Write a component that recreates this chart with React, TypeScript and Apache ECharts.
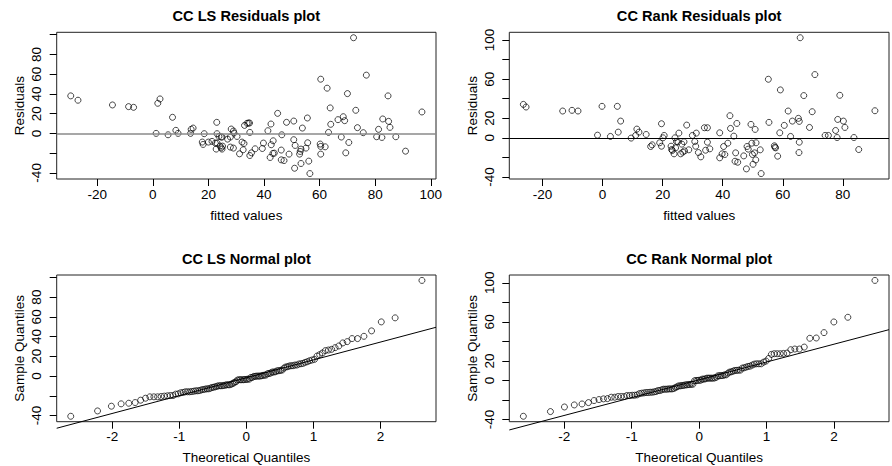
import React, { useEffect, useRef } from "react";
import * as echarts from "echarts";

// ---- Data ----
const LS_FITTED = [
  -29.5, -26.9, -14.5, -8.7, -6.9, 1.2, 1.8, 2.6, 5.5, 7.1,
  8.3, 9.1, 13.6, 13.8, 14.5, 17.8, 18.1, 18.5, 20.0, 21.3,
  22.5, 23.0, 23.1, 23.1, 22.8, 23.8, 24.2, 24.6, 24.9, 24.6,
  24.9, 25.1, 26.9, 27.9, 28.2, 27.9, 29.0, 29.0, 29.2, 30.3,
  31.2, 32.1, 32.5, 32.8, 33.0, 33.9, 34.4, 34.8, 34.9, 34.9,
  35.5, 36.8, 39.4, 39.8, 41.4, 42.5, 42.2, 42.6, 43.3, 43.2,
  43.7, 44.9, 46.4, 46.2, 46.2, 47.2, 48.1, 49.0, 50.7, 50.7,
  51.0, 51.2, 52.8, 53.0, 53.3, 53.3, 53.8, 55.1, 55.6, 55.7,
  56.1, 56.5, 60.2, 60.4, 60.4, 60.4, 62.0, 62.7, 63.2, 63.8,
  64.0, 66.6, 67.8, 68.5, 69.0, 69.4, 70.0, 70.5, 72.2, 73.0,
  73.6, 75.7, 76.8, 80.5, 81.2, 82.4, 82.7, 84.6, 84.8, 85.3,
  87.4, 90.9, 96.8,
];
const LS_RESID = [
  38.0, 33.6, 28.8, 27.1, 26.4, 0.0, 30.5, 34.9, -1.4, 16.3,
  3.1, 0.0, 0.0, 4.1, 5.4, -8.8, -11.2, -0.3, -8.8, -8.1,
  -9.8, 11.2, -0.3, -9.8, -15.9, -3.1, -12.9, -3.7, -3.7, -14.6,
  -15.9, -12.9, -5.8, -3.7, 4.4, -13.9, 2.4, -14.9, 0.3, -3.1,
  -20.7, -8.8, -16.6, -10.2, 8.1, 10.2, 10.5, 10.5, 1.0, -22.4,
  -19.7, -15.6, -15.3, -9.8, 2.7, 9.5, -24.4, -11.5, -7.5, -20.3,
  -20.0, 20.3, -1.4, -16.9, -26.8, -27.5, 11.2, -21.0, 12.5, -6.4,
  -35.3, -12.2, -21.0, -18.3, -15.9, -30.5, 5.4, -14.9, 15.6, -9.5,
  -28.1, -40.7, -10.8, 54.9, -13.2, -21.0, -13.6, 45.8, 1.0, 25.8,
  9.2, 13.9, -3.7, 16.9, 12.9, -19.7, 40.3, -9.2, 96.9, 23.4,
  5.8, 0.7, 59.0, -3.4, 4.1, -4.1, 14.6, 38.0, 12.2, 6.1,
  -3.4, -18.0, 21.7,
];
const RANK_FITTED = [
  -26.4, -25.5, -13.3, -10.2, -8.2, -1.7, -0.2, 2.6, 4.9, 5.2,
  6.0, 9.5, 11.0, 11.4, 12.1, 14.5, 16.0, 16.5, 19.0, 19.6,
  19.6, 20.1, 20.5, 22.8, 23.0, 23.2, 23.8, 24.1, 24.3, 24.6,
  25.1, 25.4, 26.0, 26.4, 26.7, 27.1, 27.3, 28.0, 28.7, 29.9,
  30.7, 31.0, 31.2, 31.9, 32.7, 34.3, 33.9, 34.9, 34.9, 35.7,
  39.0, 39.0, 39.8, 40.3, 40.7, 41.7, 42.4, 42.6, 43.7, 44.1,
  44.3, 44.7, 45.0, 47.0, 47.9, 48.1, 48.5, 49.4, 49.7, 49.9,
  50.1, 50.6, 50.8, 51.0, 51.1, 52.5, 52.8, 55.2, 55.4, 57.2,
  57.4, 57.6, 58.3, 59.0, 59.2, 60.5, 61.8, 62.6, 63.2, 65.2,
  65.5, 65.5, 65.4, 65.8, 67.0, 68.9, 69.8, 70.7, 74.1, 75.2,
  77.6, 78.1, 78.3, 79.0, 80.2, 80.7, 83.7, 85.3, 90.7,
];
const RANK_RESID = [
  34.2, 31.5, 27.4, 28.1, 27.4, 2.7, 32.2, 1.4, 32.2, 5.8,
  17.1, -0.3, 2.4, 8.9, 5.8, 3.4, -8.9, -7.2, -5.1, 14.4,
  -8.6, 0.0, 2.4, -8.6, -12.0, -13.0, -16.4, 0.0, -10.3, -3.8,
  -4.1, 4.8, -16.4, -6.5, -14.7, -4.1, -13.4, 13.0, -12.3, 2.4,
  -3.8, -8.6, 4.8, -15.1, -19.5, -12.7, 10.3, 10.3, -4.5, -11.3,
  5.1, -20.5, -16.4, -8.9, -17.1, -5.5, 22.6, 9.6, 1.7, -24.0,
  -15.4, 14.7, -25.0, -18.5, -31.8, -8.9, -11.6, 13.7, -5.5, -17.1,
  -27.1, -15.4, 8.6, -22.6, -5.1, -12.3, -36.6, 59.9, 15.8, -8.2,
  -9.6, -10.3, -18.8, 5.1, 49.0, 12.7, 27.4, 1.4, 17.1, 19.9,
  16.8, -4.5, -15.1, 102.4, 43.2, 10.6, 26.7, 64.7, 2.4, 2.4,
  7.5, 0.3, 18.8, 43.5, 17.1, 10.6, 0.3, -12.0, 27.7,
];

// ---- Tick / label values ----
const LS_X_TICKS = [-20, 0, 20, 40, 60, 80, 100];
const RANK_X_TICKS = [-20, 0, 20, 40, 60, 80];
const Y_TICKS = [-40, -20, 0, 20, 40, 60, 80, 100];
const LS_Y_LABELS = [-40, 0, 20, 40, 60, 80];
const RANK_Y_LABELS = [-40, 0, 20, 60, 100];
const QQ_X_TICKS = [-2, -1, 0, 1, 2];

const TITLES = ["CC LS Residuals plot", "CC Rank Residuals plot", "CC LS Normal plot", "CC Rank Normal plot"];

const FONT = "'Liberation Sans', Arial, Helvetica, sans-serif";

// ---- helpers (R-like) ----
function qnorm(p: number): number {
  const a = [-3.969683028665376e1, 2.209460984245205e2, -2.759285104469687e2, 1.38357751867269e2, -3.066479806614716e1, 2.506628277459239];
  const b = [-5.447609879822406e1, 1.615858368580409e2, -1.556989798598866e2, 6.680131188771972e1, -1.328068155288572e1];
  const c = [-7.784894002430293e-3, -3.223964580411365e-1, -2.400758277161838, -2.549732539343734, 4.374664141464968, 2.938163982698783];
  const d = [7.784695709041462e-3, 3.224671290700398e-1, 2.445134137142996, 3.754408661907416];
  const pl = 0.02425;
  if (p < pl) {
    const q = Math.sqrt(-2 * Math.log(p));
    return (((((c[0] * q + c[1]) * q + c[2]) * q + c[3]) * q + c[4]) * q + c[5]) / ((((d[0] * q + d[1]) * q + d[2]) * q + d[3]) * q + 1);
  }
  if (p > 1 - pl) {
    const q = Math.sqrt(-2 * Math.log(1 - p));
    return -(((((c[0] * q + c[1]) * q + c[2]) * q + c[3]) * q + c[4]) * q + c[5]) / ((((d[0] * q + d[1]) * q + d[2]) * q + d[3]) * q + 1);
  }
  const q = p - 0.5;
  const r = q * q;
  return ((((((a[0] * r + a[1]) * r + a[2]) * r + a[3]) * r + a[4]) * r + a[5]) * q) / (((((b[0] * r + b[1]) * r + b[2]) * r + b[3]) * r + b[4]) * r + 1);
}

function qqData(vals: number[]) {
  const sorted = [...vals].sort((x, y) => x - y);
  const n = sorted.length;
  const a = n <= 10 ? 3 / 8 : 0.5;
  return sorted.map((v, i) => [qnorm((i + 1 - a) / (n + 1 - 2 * a)), v]);
}

function quantile7(sorted: number[], p: number) {
  const h = (sorted.length - 1) * p;
  const lo = Math.floor(h);
  const hi = Math.min(lo + 1, sorted.length - 1);
  return sorted[lo] + (h - lo) * (sorted[hi] - sorted[lo]);
}

function qqLine(vals: number[]) {
  const sorted = [...vals].sort((x, y) => x - y);
  const y1 = quantile7(sorted, 0.25);
  const y2 = quantile7(sorted, 0.75);
  const x1 = qnorm(0.25);
  const x2 = qnorm(0.75);
  const slope = (y2 - y1) / (x2 - x1);
  return { slope, intercept: y1 - slope * x1 };
}

function rRange(vals: number[]): [number, number] {
  const mn = Math.min(...vals);
  const mx = Math.max(...vals);
  const e = (mx - mn) * 0.04;
  return [mn - e, mx + e];
}

function axis(gridIndex: number, range: [number, number], ticks: number[], labels: number[], name: string, isY: boolean) {
  return {
    type: "value",
    gridIndex,
    min: range[0],
    max: range[1],
    position: isY ? "left" : "bottom",
    name,
    nameLocation: "middle",
    nameGap: isY ? 30 : 29,
    nameRotate: isY ? 90 : 0,
    nameTextStyle: { fontSize: 13.5, color: "#000", fontFamily: FONT },
    axisLine: { show: false, onZero: false },
    axisTick: { show: true, inside: false, length: 7, customValues: ticks, lineStyle: { color: "#000", width: 1 } },
    axisLabel: {
      show: true,
      customValues: labels,
      rotate: isY ? 90 : 0,
      margin: isY ? 13 : 8,
      fontSize: 13.5,
      color: "#000",
      fontFamily: FONT,
    },
    splitLine: { show: false },
  };
}

const POINT_STYLE = { color: "rgba(0,0,0,0)", borderColor: "#000", borderWidth: 0.9 };

export default function App() {
  const ref = useRef<HTMLDivElement>(null);
  useEffect(() => {
    if (!ref.current) return;
    const chart = echarts.init(ref.current, undefined, { renderer: "svg" });

    const lsX = rRange(LS_FITTED);
    const lsY = rRange(LS_RESID);
    const rkX = rRange(RANK_FITTED);
    const rkY = rRange(RANK_RESID);
    const lsQQ = qqData(LS_RESID);
    const rkQQ = qqData(RANK_RESID);
    const lsQX = rRange(lsQQ.map((d) => d[0]));
    const rkQX = rRange(rkQQ.map((d) => d[0]));
    const lsL = qqLine(LS_RESID);
    const rkL = qqLine(RANK_RESID);

    const grids = [
      { left: 56.7, top: 32.3, width: 379.3, height: 146.7 },
      { left: 509.3, top: 32.3, width: 379.7, height: 146.7 },
      { left: 56.7, top: 275, width: 379.3, height: 146.7 },
      { left: 509.3, top: 275, width: 379.7, height: 146.7 },
    ].map((g) => ({
      ...g,
      show: true,
      borderColor: "#222",
      borderWidth: 1,
      backgroundColor: "transparent",
      containLabel: false,
      outerBoundsMode: "none",
    }));

    const titles = [
      [grids[0].left + grids[0].width / 2, 8],
      [grids[1].left + grids[1].width / 2, 8],
      [grids[2].left + grids[2].width / 2, 251],
      [grids[3].left + grids[3].width / 2, 251],
    ].map((p, i) => ({
      text: TITLES[i],
      left: p[0] - 5,
      top: p[1] - 5,
      textAlign: "center",
      textStyle: { fontSize: 14.6, fontWeight: "bold", fontFamily: FONT, color: "#000" },
    }));

    const option = {
      animation: false,
      backgroundColor: "#fff",
      title: titles,
      grid: grids,
      xAxis: [
        axis(0, lsX, LS_X_TICKS, LS_X_TICKS, "fitted values", false),
        axis(1, rkX, RANK_X_TICKS, RANK_X_TICKS, "fitted values", false),
        axis(2, lsQX, QQ_X_TICKS, QQ_X_TICKS, "Theoretical Quantiles", false),
        axis(3, rkQX, QQ_X_TICKS, QQ_X_TICKS, "Theoretical Quantiles", false),
      ],
      yAxis: [
        axis(0, lsY, Y_TICKS, LS_Y_LABELS, "Residuals", true),
        axis(1, rkY, Y_TICKS, RANK_Y_LABELS, "Residuals", true),
        axis(2, lsY, Y_TICKS, LS_Y_LABELS, "Sample Quantiles", true),
        axis(3, rkY, Y_TICKS, RANK_Y_LABELS, "Sample Quantiles", true),
      ],
      series: [
        {
          type: "scatter",
          xAxisIndex: 0,
          yAxisIndex: 0,
          symbol: "circle",
          symbolSize: 6,
          itemStyle: POINT_STYLE,
          silent: true,
          data: LS_FITTED.map((x, i) => [x, LS_RESID[i]]),
          markLine: {
            silent: true,
            symbol: ["none", "none"],
            label: { show: false },
            lineStyle: { color: "#8a8a8a", width: 1.5, type: "solid" },
            data: [{ yAxis: 0 }],
          },
        },
        {
          type: "scatter",
          xAxisIndex: 1,
          yAxisIndex: 1,
          symbol: "circle",
          symbolSize: 6,
          itemStyle: POINT_STYLE,
          silent: true,
          data: RANK_FITTED.map((x, i) => [x, RANK_RESID[i]]),
          markLine: {
            silent: true,
            symbol: ["none", "none"],
            label: { show: false },
            lineStyle: { color: "#000", width: 1, type: "solid" },
            data: [{ yAxis: 0 }],
          },
        },
        {
          type: "scatter",
          xAxisIndex: 2,
          yAxisIndex: 2,
          symbol: "circle",
          symbolSize: 6,
          itemStyle: POINT_STYLE,
          silent: true,
          data: lsQQ,
        },
        {
          type: "line",
          xAxisIndex: 2,
          yAxisIndex: 2,
          showSymbol: false,
          clip: false,
          silent: true,
          lineStyle: { color: "#000", width: 1 },
          data: [lsQX[0], lsQX[1]].map((x) => [x, lsL.intercept + lsL.slope * x]),
        },
        {
          type: "scatter",
          xAxisIndex: 3,
          yAxisIndex: 3,
          symbol: "circle",
          symbolSize: 6,
          itemStyle: POINT_STYLE,
          silent: true,
          data: rkQQ,
        },
        {
          type: "line",
          xAxisIndex: 3,
          yAxisIndex: 3,
          showSymbol: false,
          clip: false,
          silent: true,
          lineStyle: { color: "#000", width: 1 },
          data: [rkQX[0], rkQX[1]].map((x) => [x, rkL.intercept + rkL.slope * x]),
        },
      ],
    };
    chart.setOption(option as any);
    return () => chart.dispose();
  }, []);

  return (
    <div
      ref={ref}
      style={{ position: "absolute", left: 0, top: 0, width: 892, height: 466, background: "#fff" }}
    />
  );
}
